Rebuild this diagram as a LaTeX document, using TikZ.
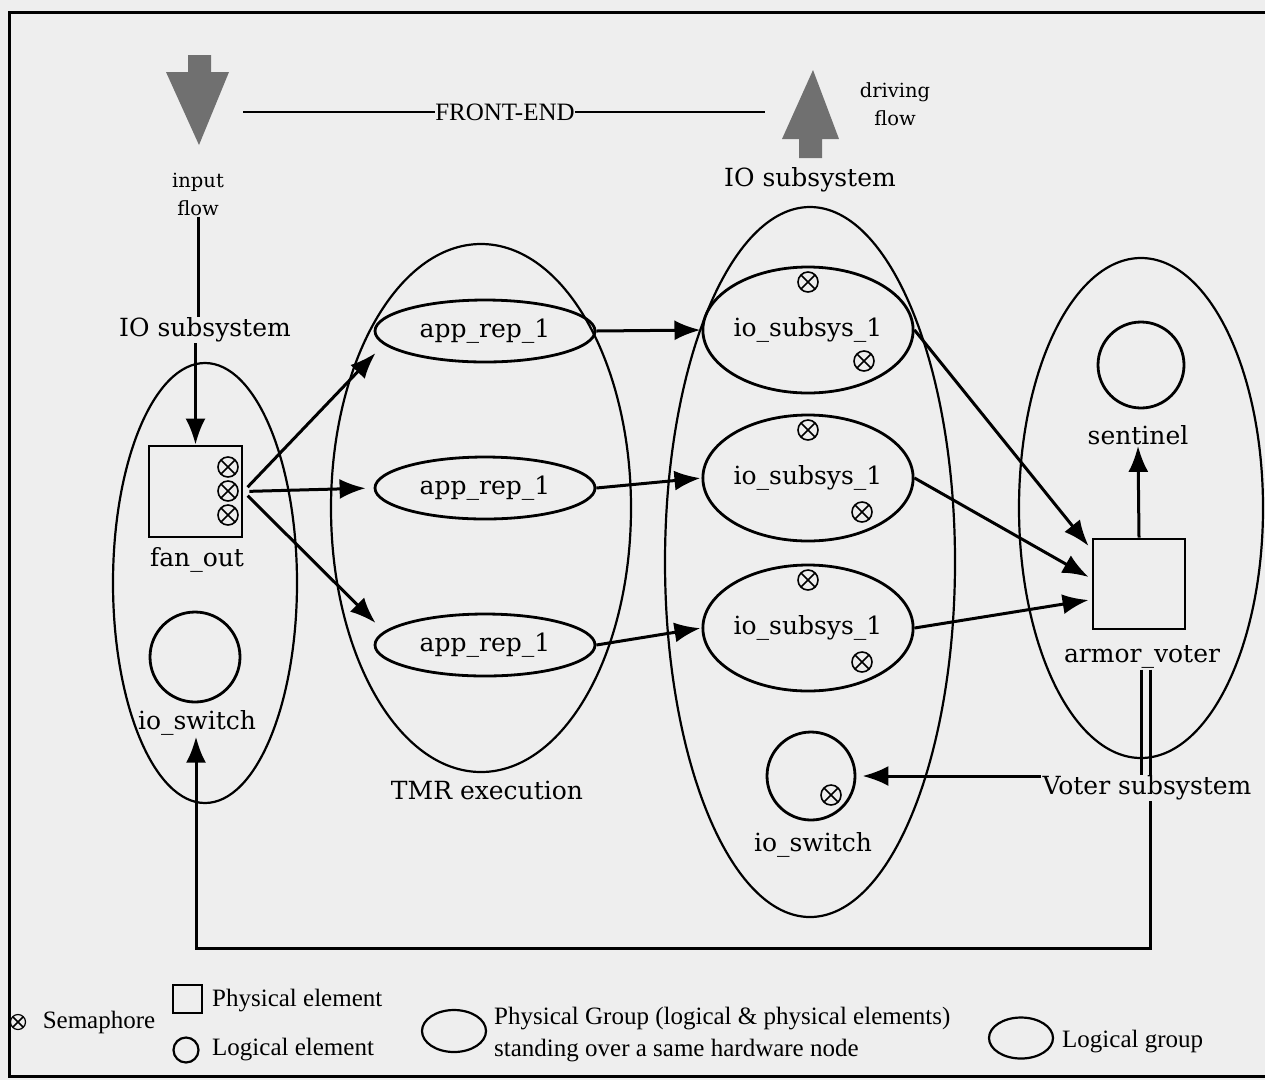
\documentclass[tikz,border=0pt]{standalone}
\usepackage{fontspec}
\setmainfont{DejaVu Serif}
\newfontfamily\tms{Liberation Serif}
\usetikzlibrary{shapes.geometric,arrows.meta,calc}
\definecolor{paper}{RGB}{238,238,238}
\definecolor{arrowgray}{RGB}{112,112,112}
\begin{document}
\begin{tikzpicture}[x=1pt,y=-1pt,
  lw/.style={line width=3},
  arr/.style={line width=3,-{Latex[length=26,width=20]}},
  lbl/.style={font=\fontsize{25}{30}\selectfont, inner sep=1},
  sml/.style={font=\fontsize{19.5}{28}\selectfont, inner sep=1, align=center},
  leg/.style={font=\tms\fontsize{25}{30}\selectfont, inner sep=1},
  grp/.style={ellipse, draw, line width=2.2, inner sep=0},
  ell/.style={ellipse, draw, line width=2.8, inner sep=0, font=\fontsize{25}{30}\selectfont},
  circ/.style={circle, draw, line width=2.8, inner sep=0},
  sqbox/.style={rectangle, draw, line width=2.8, inner sep=0},
  sema/.style={circle, draw, line width=1.6, minimum size=20, inner sep=0,
    path picture={\draw[line width=1.6] (path picture bounding box.north west) -- (path picture bounding box.south east)
      (path picture bounding box.south west) -- (path picture bounding box.north east);}},
]
\fill[paper] (0,0) rectangle (1265,1080);
\useasboundingbox (0,0) rectangle (1265,1080);
\draw[line width=3] (1265,12) -- (9,12) -- (9,1076) -- (1265,1076);

% gray block arrows
\fill[arrowgray] (188,55) -- (211,55) -- (211,72) -- (229,72) -- (199,145) -- (166,72) -- (188,72) -- cycle;
\fill[arrowgray] (813,70) -- (839,139) -- (822,139) -- (822,158) -- (799,158) -- (799,139) -- (782,139) -- cycle;

% front-end
\node[font=\tms\fontsize{25}{30}\selectfont, inner sep=0] (fe) at (505,112) {FRONT-END};
\coordinate (fel) at (243,112);
\coordinate (fer) at (765,112);
\draw[line width=1.6] (fel) -- (fe.west) (fe.east) -- (fer);
\node[sml] (inflow) at (198,194) {input\\flow};
\node[sml] (drflow) at (895,104) {driving\\flow};
\node[lbl] (iot) at (810,180) {IO subsystem};
\node[lbl] (iol) at (205,330) {IO subsystem};

% groups
\node[grp, minimum width=184, minimum height=440] (lg) at (205,583) {};
\node[grp, minimum width=300, minimum height=528] (tmr) at (481,508) {};
\node[grp, minimum width=290, minimum height=710] (iog) at (810,562) {};
\node[grp, minimum width=244, minimum height=500] (vg) at (1141,508) {};

% left group
\node[sqbox, minimum width=93, minimum height=91] (fanout) at (195.5,491.5) {};
\node[sema] (fs1) at (228,467) {};
\node[sema] (fs2) at (228,491) {};
\node[sema] (fs3) at (228,515) {};
\node[lbl] (fanlab) at (197,560) {fan\_out};
\node[circ, minimum size=90] (sw1) at (195,657) {};
\node[lbl] (sw1lab) at (197,723) {io\_switch};

% TMR
\node[ell, minimum width=220, minimum height=62] (app1) at (485,331) {app\_rep\_1};
\node[ell, minimum width=220, minimum height=62] (app2) at (485,488) {app\_rep\_1};
\node[ell, minimum width=220, minimum height=62] (app3) at (485,645) {app\_rep\_1};
\node[lbl] (tmrlab) at (487,790) {TMR execution};

% IO subsystem
\node[ell, minimum width=188, minimum height=126] (io1) at (808,330) {io\_subsys\_1};
\node[ell, minimum width=188, minimum height=126] (io2) at (808,478) {io\_subsys\_1};
\node[ell, minimum width=188, minimum height=126] (io3) at (808,628) {io\_subsys\_1};
\node[sema] (is1a) at ($(io1)+(0,-48)$) {};
\node[sema] (is1b) at ($(io1)+(56,31)$) {};
\node[sema] (is2a) at ($(io2)+(0,-48)$) {};
\node[sema] (is2b) at ($(io2)+(54,34)$) {};
\node[sema] (is3a) at ($(io3)+(0,-48)$) {};
\node[sema] (is3b) at ($(io3)+(54,34)$) {};
\node[circ, minimum size=88] (sw2) at (811,776) {};
\node[sema] (sw2s) at (831,795) {};
\node[lbl] (sw2lab) at (813,845) {io\_switch};

% voter
\node[circ, minimum size=86] (sent) at (1141,365) {};
\node[lbl] (sentlab) at (1138,435) {sentinel};
\node[sqbox, minimum width=92, minimum height=90] (voter) at (1139,584) {};
\node[lbl] (voterlab) at (1142,657) {armor\_voter};
\node[lbl] (vsub) at (1147,788) {Voter subsystem};

% connectors
\draw[lw] (inflow.south) -- (inflow.south |- iol.north);
\draw[arr] (fanout.north |- iol.south) -- (fanout.north);
\draw[arr, shorten <=6] (fanout.east) -- ($(app1.west)+(2,22)$);
\draw[arr, shorten <=6, shorten >=8] (fanout.east) -- (app2.west);
\draw[arr, shorten <=6] (fanout.east) -- ($(app3.west)+(2,-22)$);
\draw[arr, shorten >=1] (app1.east) -- (io1.west);
\draw[arr, shorten >=1] (app2.east) -- (io2.west);
\draw[arr, shorten >=1] (app3.east) -- (io3.west);
\draw[arr] (io1.east) -- ($(voter.west)+(-3,-38)$);
\draw[arr] (io2.east) -- ($(voter.west)+(-3,-7)$);
\draw[arr] (io3.east) -- ($(voter.west)+(-3,16)$);
\draw[arr] (voter.north) -- (sentlab.south);
\draw[lw] ([xshift=-6]vsub.north |- voterlab.south) -- ([xshift=-6]vsub.north);
\draw[lw] ([xshift=3]vsub.north |- voterlab.south) -- ([xshift=3]vsub.north);
\draw[arr, shorten >=6] (vsub.west |- sw2.east) -- (sw2.east);
\coordinate (bl) at (196,948);
\draw[arr] ([xshift=3]vsub.south) |- (bl) -- (bl |- sw1lab.south);

% legend
\node[sema, minimum size=15, line width=1.2] (ls) at (18,1022) {};
\node[leg] (lst) at (99,1022) {Semaphore};
\node[sqbox, line width=2.2, minimum width=29, minimum height=28] (lpe) at (187.5,999) {};
\node[leg, anchor=west] (lpet) at (211,1001) {Physical element};
\node[circ, line width=2.2, minimum size=25] (lle) at (186,1050) {};
\node[leg, anchor=west] (llet) at (211,1050) {Logical element};
\node[ellipse, draw, line width=2.2, minimum width=64, minimum height=42, inner sep=0] (lpg) at (454,1031) {};
\node[leg, anchor=west] (lpgt1) at (493,1019) {Physical Group (logical \& physical elements)};
\node[leg, anchor=west] (lpgt2) at (493,1051) {standing over a same hardware node};
\node[ellipse, draw, line width=2.2, minimum width=64, minimum height=41, inner sep=0] (llg) at (1021,1038) {};
\node[leg, anchor=west] (llgt) at (1061,1042) {Logical group};
\end{tikzpicture}
\end{document}
